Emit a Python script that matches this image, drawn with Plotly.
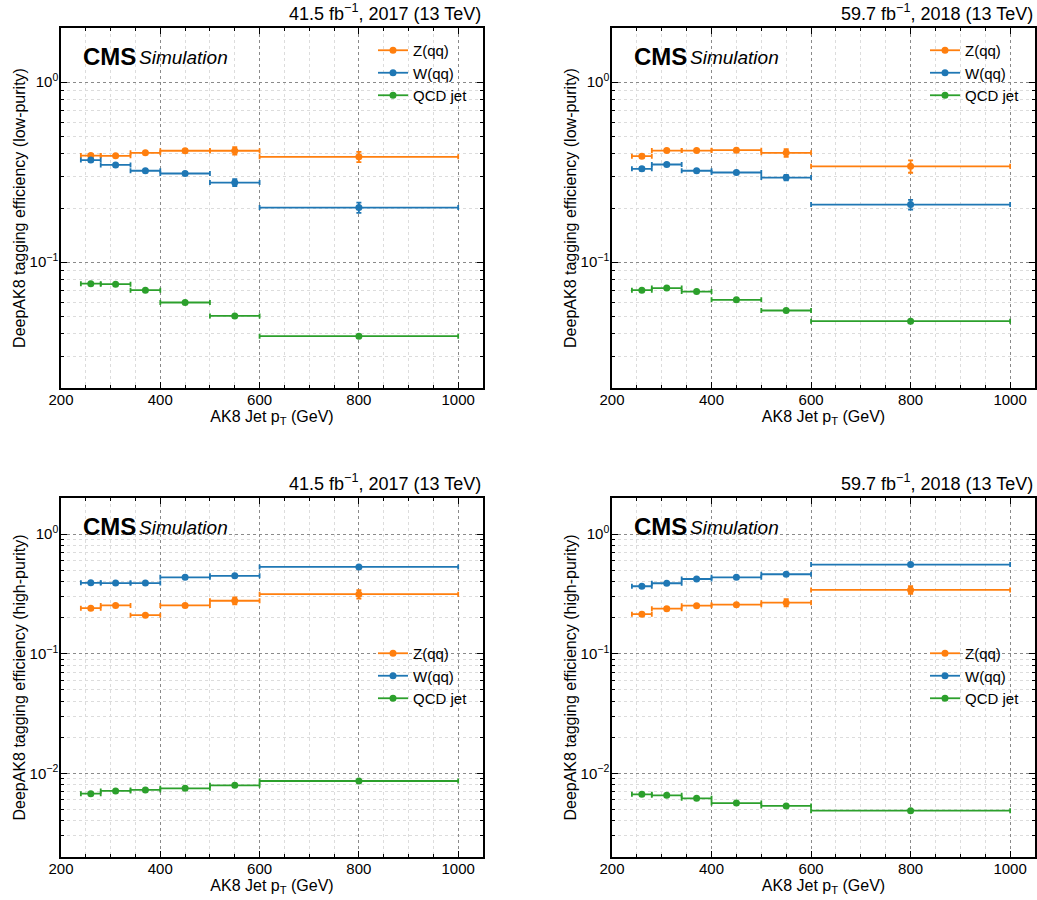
import math
import plotly.graph_objects as go
from plotly.subplots import make_subplots

# ---------------- data ----------------
bin_centers = [260, 310, 370, 450, 550, 800]
bin_halfwidths = [20, 30, 30, 50, 50, 200]

series_names = ["Z(qq)", "W(qq)", "QCD jet"]
series_colors = ["#ff7f0e", "#1f77b4", "#2ca02c"]

# 2017 low-purity
lp17_z = [0.391, 0.390, 0.405, 0.416, 0.416, 0.385]
lp17_w = [0.369, 0.347, 0.322, 0.311, 0.277, 0.201]
lp17_q = [0.0760, 0.0755, 0.0699, 0.0597, 0.0503, 0.0388]
lp17_z_err = [0.008, 0.006, 0.007, 0.008, 0.020, 0.025]
lp17_w_err = [0.007, 0.006, 0.006, 0.006, 0.012, 0.013]
lp17_q_err = [0.0008, 0.0007, 0.0007, 0.0006, 0.0006, 0.0005]

# 2018 low-purity
lp18_z = [0.388, 0.417, 0.417, 0.419, 0.405, 0.341]
lp18_w = [0.330, 0.349, 0.322, 0.315, 0.295, 0.209]
lp18_q = [0.0699, 0.0718, 0.0687, 0.0618, 0.0539, 0.0470]
lp18_z_err = [0.008, 0.007, 0.007, 0.008, 0.020, 0.027]
lp18_w_err = [0.007, 0.007, 0.006, 0.006, 0.010, 0.013]
lp18_q_err = [0.0007, 0.0007, 0.0007, 0.0006, 0.0006, 0.0005]

# 2017 high-purity
hp17_z = [0.240, 0.253, 0.210, 0.253, 0.277, 0.314]
hp17_w = [0.391, 0.389, 0.389, 0.435, 0.447, 0.531]
hp17_q = [0.00677, 0.00713, 0.00727, 0.00750, 0.00794, 0.00863]
hp17_z_err = [0.006, 0.005, 0.005, 0.006, 0.018, 0.025]
hp17_w_err = [0.006, 0.006, 0.006, 0.007, 0.008, 0.010]
hp17_q_err = [0.0001, 0.0001, 0.0001, 0.0001, 0.0001, 0.0001]

# 2018 high-purity
hp18_z = [0.214, 0.238, 0.252, 0.257, 0.267, 0.341]
hp18_w = [0.366, 0.388, 0.421, 0.435, 0.461, 0.555]
hp18_q = [0.00668, 0.00655, 0.00618, 0.00565, 0.00534, 0.00488]
hp18_z_err = [0.006, 0.006, 0.006, 0.007, 0.018, 0.025]
hp18_w_err = [0.007, 0.007, 0.007, 0.007, 0.008, 0.010]
hp18_q_err = [0.0001, 0.0001, 0.0001, 0.0001, 0.0001, 0.0001]

lumi_labels = ["41.5 fb<sup>\u22121</sup>, 2017 (13 TeV)", "59.7 fb<sup>\u22121</sup>, 2018 (13 TeV)"]
y_titles = ["DeepAK8 tagging efficiency (low-purity)", "DeepAK8 tagging efficiency (high-purity)"]
x_title = "AK8 Jet p<sub>T</sub> (GeV)"
x_tick_vals = [200, 400, 600, 800, 1000]

panels = [
    dict(row=1, col=1, vals=(lp17_z, lp17_w, lp17_q), errs=(lp17_z_err, lp17_w_err, lp17_q_err), lumi=0, yt=0, ylo=0.02),
    dict(row=1, col=2, vals=(lp18_z, lp18_w, lp18_q), errs=(lp18_z_err, lp18_w_err, lp18_q_err), lumi=1, yt=0, ylo=0.02),
    dict(row=2, col=1, vals=(hp17_z, hp17_w, hp17_q), errs=(hp17_z_err, hp17_w_err, hp17_q_err), lumi=0, yt=1, ylo=0.002),
    dict(row=2, col=2, vals=(hp18_z, hp18_w, hp18_q), errs=(hp18_z_err, hp18_w_err, hp18_q_err), lumi=1, yt=1, ylo=0.002),
]

W, H = 1037, 900
# plot-area pixel boxes (left, right, top, bottom)
xdom_px = [(61, 483), (612, 1035)]
ydom_px = [(28, 388), (498, 857)]

FONT = "Liberation Sans, Arial, Helvetica, sans-serif"

fig = make_subplots(rows=2, cols=2)

legend_names = ["legend", "legend2", "legend3", "legend4"]

for i, p in enumerate(panels):
    r, c = p["row"], p["col"]
    leg = legend_names[i]
    for k in range(3):
        fig.add_trace(go.Scatter(
            x=bin_centers, y=p["vals"][k], mode="markers",
            marker=dict(color=series_colors[k], size=7),
            error_x=dict(type="data", array=bin_halfwidths, color=series_colors[k], thickness=1.8, width=2.5),
            error_y=dict(type="data", array=p["errs"][k], color=series_colors[k], thickness=1.8, width=2.5),
            showlegend=False, name=series_names[k]), row=r, col=c)
    for k in range(3):
        fig.add_trace(go.Scatter(
            x=[None], y=[None], mode="lines+markers", name=series_names[k],
            marker=dict(color=series_colors[k], size=7),
            line=dict(color=series_colors[k], width=1.8),
            legend=leg, showlegend=True), row=r, col=c)


def minor_vals(lo, hi):
    out = []
    e = math.floor(math.log10(lo))
    while 10 ** e <= hi:
        for m in range(2, 10):
            v = m * 10 ** e
            if lo <= v <= hi:
                out.append(v)
        e += 1
    return out


layout_upd = {}
annotations = []
for i, p in enumerate(panels):
    r, c = p["row"], p["col"]
    idx = i + 1
    xs = "xaxis" if idx == 1 else f"xaxis{idx}"
    ys = "yaxis" if idx == 1 else f"yaxis{idx}"
    xl, xr = xdom_px[c - 1]
    yt_, yb_ = ydom_px[r - 1]
    xd = [xl / W, xr / W]
    yd = [1 - yb_ / H, 1 - yt_ / H]
    layout_upd[xs] = dict(
        domain=xd, range=[200, 1050], tickvals=x_tick_vals, automargin=False,
        ticks="inside", ticklen=6, tickwidth=1.2, tickcolor="black",
        ticklabelstandoff=-3,
        showline=True, linecolor="black", linewidth=1.5, mirror="allticks",
        showgrid=True, gridcolor="#8a8a8a", griddash="dot", gridwidth=1,
        zeroline=False,
        tickfont=dict(family=FONT, size=15, color="black"),
        title=dict(text=x_title, font=dict(family=FONT, size=16, color="black"), standoff=0),
        minor=dict(dtick=50, ticks="inside", ticklen=3.5, tickwidth=1, tickcolor="black",
                   showgrid=True, gridcolor="#dcdcdc", griddash="dot", gridwidth=1),
    )
    ylo = p["ylo"]
    decs = [v for v in [0.001, 0.01, 0.1, 1.0] if ylo <= v <= 2]
    dec_text = {0.001: "10<sup>\u22123</sup>", 0.01: "10<sup>\u22122</sup>", 0.1: "10<sup>\u22121</sup>", 1.0: "10<sup>0</sup>"}
    layout_upd[ys] = dict(
        domain=yd, type="log", range=[math.log10(ylo), math.log10(2)], automargin=False,
        tickvals=decs, ticktext=[dec_text[v] for v in decs],
        ticks="inside", ticklen=6, tickwidth=1.2, tickcolor="black",
        ticklabelstandoff=-2,
        showline=True, linecolor="black", linewidth=1.5, mirror="allticks",
        showgrid=True, gridcolor="#8a8a8a", griddash="dot", gridwidth=1,
        zeroline=False,
        tickfont=dict(family=FONT, size=15, color="black"),
        title=dict(text=y_titles[p["yt"]], font=dict(family=FONT, size=16, color="black"), standoff=0),
        minor=dict(tickvals=minor_vals(ylo, 2), ticks="inside", ticklen=3.5, tickwidth=1, tickcolor="black",
                   showgrid=True, gridcolor="#dcdcdc", griddash="dot", gridwidth=1),
    )
    # lumi label
    annotations.append(dict(text=lumi_labels[p["lumi"]], xref="paper", yref="paper",
                            x=xr / W, y=1 - (yt_ - 2) / H, xanchor="right", yanchor="bottom",
                            showarrow=False, font=dict(family=FONT, size=18, color="black")))
    annotations.append(dict(text="<b>CMS</b>", xref="paper", yref="paper",
                            x=(xl + 20) / W, y=1 - (yt_ + 13) / H, xanchor="left", yanchor="top",
                            showarrow=False, font=dict(family=FONT, size=24, color="black")))
    annotations.append(dict(text="<i>Simulation</i>", xref="paper", yref="paper",
                            x=(xl + 76) / W, y=1 - (yt_ + 17) / H, xanchor="left", yanchor="top",
                            showarrow=False, font=dict(family=FONT, size=19, color="black")))
    # legend placement
    legx = (xr - 110) / W
    if r == 1:
        legy = 1 - (yt_ + 6) / H
    else:
        legy = 1 - (yt_ + 139) / H
    layout_upd[legend_names[i]] = dict(
        x=legx, y=legy, xanchor="left", yanchor="top", xref="paper", yref="paper",
        bgcolor="rgba(0,0,0,0)", font=dict(family=FONT, size=15, color="black"),
        itemwidth=30,
    )

fig.update_layout(**layout_upd)
fig.update_layout(
    annotations=annotations,
    width=W, height=H,
    margin=dict(l=0, r=0, t=0, b=0, autoexpand=False),
    plot_bgcolor="white", paper_bgcolor="white",
    font=dict(family=FONT, color="black"),
)

fig.write_html("out.html")
